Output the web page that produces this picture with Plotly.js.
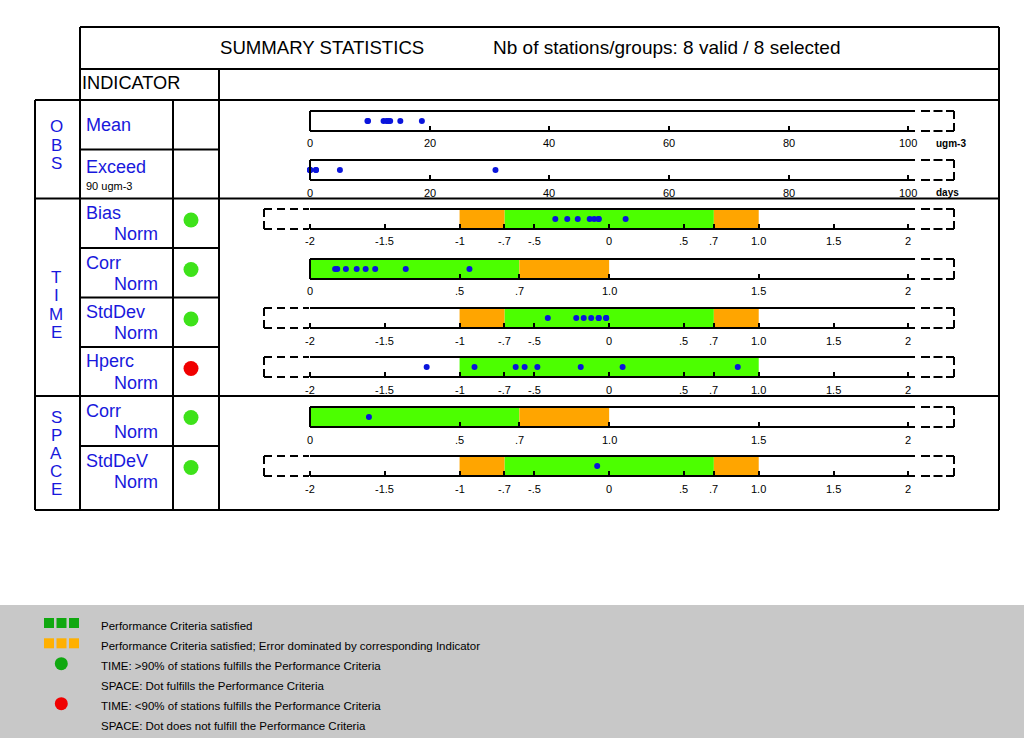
<!DOCTYPE html>
<html><head><meta charset="utf-8">
<script src="https://cdn.plot.ly/plotly-3.0.1.min.js"></script>
<style>html,body{margin:0;padding:0;background:#fff;}#chart{width:1024px;height:738px;}</style>
</head><body><div id="chart"></div>
<script>
// ---------------- DATA ----------------
const indicatorNames = ['Mean', 'Exceed', 'Bias', 'Corr', 'StdDev', 'Hperc', 'Corr', 'StdDeV'];
const indicatorSub   = ['', '90 ugm-3', 'Norm', 'Norm', 'Norm', 'Norm', 'Norm', 'Norm'];
const groupNames     = ['OBS', 'TIME', 'SPACE'];
const scaleTypes     = ['obs', 'obs', 'sym', 'corr', 'sym', 'sym', 'corr', 'sym'];
const unitLabels     = ['ugm-3', 'days', '', '', '', '', '', ''];

const meanVals      = [9.6, 9.7, 12.3, 12.8, 13.1, 13.4, 15.1, 18.7];
const exceedVals    = [0, 0, 0, 0, 1, 1, 5, 31];
const biasVals      = [-0.36, -0.28, -0.21, -0.13, -0.10, -0.07, -0.07, 0.11];
const corrTimeVals  = [0.084, 0.091, 0.120, 0.156, 0.186, 0.218, 0.320, 0.533];
const stdTimeVals   = [-0.41, -0.22, -0.17, -0.12, -0.07, -0.07, -0.02, -0.02];
const hpercVals     = [-1.22, -0.90, -0.625, -0.565, -0.48, -0.19, 0.09, 0.86];
const corrSpaceVals = [0.197];
const stdSpaceVals  = [-0.08];
const stationValues = [meanVals, exceedVals, biasVals, corrTimeVals, stdTimeVals, hpercVals, corrSpaceVals, stdSpaceVals];

const greenBands  = [null, null, [-0.7, 0.7], [0, 0.7], [-0.7, 0.7], [-1, 1], [0, 0.7], [-0.7, 0.7]];
const orangeBands = [[], [], [[-1, -0.7], [0.7, 1]], [[0.7, 1]], [[-1, -0.7], [0.7, 1]], [], [[0.7, 1]], [[-1, -0.7], [0.7, 1]]];
const statusDots  = [null, null, 'ok', 'ok', 'ok', 'fail', 'ok', 'ok'];

const obsTicks  = [0, 20, 40, 60, 80, 100];
const obsText   = ['0', '20', '40', '60', '80', '100'];
const symTicks  = [-2, -1.5, -1, -0.7, -0.5, 0, 0.5, 0.7, 1, 1.5, 2];
const symText   = ['-2', '-1.5', '-1', '-.7', '-.5', '0', '.5', '.7', '1.0', '1.5', '2'];
const corrTicks = [0, 0.5, 0.7, 1, 1.5, 2];
const corrText  = ['0', '.5', '.7', '1.0', '1.5', '2'];

const titleText = 'SUMMARY STATISTICS';
const stationsText = 'Nb of stations/groups: 8 valid / 8 selected';
const legendTexts = [
  'Performance Criteria satisfied',
  'Performance Criteria satisfied; Error dominated by corresponding Indicator',
  'TIME: >90% of stations fulfills the Performance Criteria',
  'SPACE: Dot fulfills the Performance Criteria',
  'TIME: <90% of stations fulfills the Performance Criteria',
  'SPACE: Dot does not fulfill the Performance Criteria'
];

// ---------------- LAYOUT GEOMETRY (pixels) ----------------
const W = 1024, H = 738;
const PX = x => x / W, PY = y => 1 - y / H;
const FONT = 'Liberation Sans, Arial, sans-serif';
const BLUE_TXT = '#1818dc', DOT_BLUE = '#0a14dc';
const GREEN = '#4cff00', ORANGE = '#ffa500';
const OK_GREEN = '#3ee21a', FAIL_RED = '#f00000';
const LEG_GREEN = '#10a810', LEG_ORANGE = '#ffb000';

const rowTops = [100, 149.5, 198.5, 248, 297.5, 347, 396, 446];
const boxTops = [111, 160, 209, 259, 308, 357, 407, 456];
const BOXH = 20;
const AX0 = 310, AX1 = 908.3, DOM0 = 258, DOM1 = 960;
const limits = {obs: [0, 100], sym: [-2, 2], corr: [0, 2]};
const ticksFor = {obs: [obsTicks, obsText], sym: [symTicks, symText], corr: [corrTicks, corrText]};

const traces = [], shapes = [], annotations = [];
const layout = {
  width: W, height: H, margin: {l: 0, r: 0, t: 0, b: 0},
  paper_bgcolor: '#ffffff', plot_bgcolor: 'rgba(0,0,0,0)',
  showlegend: false, font: {family: FONT, color: '#000'}
};

function line(x0, y0, x1, y1, dash, w) {
  shapes.push({type: 'line', xref: 'paper', yref: 'paper', x0: PX(x0), y0: PY(y0), x1: PX(x1), y1: PY(y1),
    line: {color: '#000', width: w || 2, dash: dash || 'solid'}, layer: 'above'});
}
function text(x, y, t, size, color, opts) {
  annotations.push(Object.assign({xref: 'paper', yref: 'paper', x: PX(x), y: PY(y), text: t, showarrow: false,
    xanchor: 'left', yanchor: 'middle', borderpad: 0, font: {family: FONT, size: size, color: color || '#000'}}, opts || {}));
}

// strips
scaleTypes.forEach((type, i) => {
  const n = i + 1;
  const [lo, hi] = limits[type];
  const v = p => lo + (p - AX0) / (AX1 - AX0) * (hi - lo);
  const top = boxTops[i], bot = top + BOXH;
  const sfx = n === 1 ? '' : String(n);
  const [tv, tt] = ticksFor[type];
  layout['xaxis' + sfx] = {domain: [PX(DOM0), PX(DOM1)], range: [v(DOM0), v(DOM1)], anchor: 'free', position: PY(bot),
    tickmode: 'array', tickvals: tv, ticks: 'inside', ticklen: 5, tickwidth: 2, tickcolor: '#000',
    showticklabels: false, showgrid: false, zeroline: false, showline: false, fixedrange: true};
  layout['yaxis' + sfx] = {domain: [PY(bot + 5), PY(top - 5)], range: [-0.25, 1.25], anchor: 'x' + sfx,
    visible: false, fixedrange: true};
  const xr = 'x' + sfx, yr = 'y' + sfx;
  // tick labels placed through the strip's own x scale
  tv.forEach((val, k) => annotations.push({xref: xr, yref: 'paper', x: val, y: PY(bot + 12.5), text: tt[k],
    showarrow: false, xanchor: 'center', yanchor: 'middle', borderpad: 0, font: {family: FONT, size: 11, color: '#000'}}));
  if (greenBands[i]) shapes.push({type: 'rect', xref: xr, yref: yr, x0: greenBands[i][0], x1: greenBands[i][1], y0: 0, y1: 1,
    fillcolor: GREEN, line: {width: 0}, layer: 'below'});
  orangeBands[i].forEach(b => shapes.push({type: 'rect', xref: xr, yref: yr, x0: b[0], x1: b[1], y0: 0, y1: 1,
    fillcolor: ORANGE, line: {width: 0}, layer: 'below'}));
  traces.push({type: 'scatter', mode: 'markers', x: stationValues[i], y: stationValues[i].map(() => 0.5),
    xaxis: xr, yaxis: yr, marker: {size: 6, color: DOT_BLUE}, cliponaxis: false, hoverinfo: 'x'});
  // frame
  line(AX0, top, 915, top); line(AX0, bot, 915, bot);
  line(921, top, 954, top, '9px,3.5px'); line(921, bot, 954, bot, '9px,3.5px');
  line(954, top, 954, bot, '8px,4px');
  if (type === 'sym') {
    line(264, top, 309, top, '8px,5px'); line(264, bot, 309, bot, '8px,5px');
    line(264, top, 264, bot, '8px,4px');
  } else {
    line(AX0, top, AX0, bot);
  }
  if (unitLabels[i]) text(935, bot + 12.5, '<b>' + unitLabels[i] + '</b>', 10);
  // row labels
  const rt = rowTops[i];
  if (i === 0) text(85, rt + 25, indicatorNames[i], 18, BLUE_TXT);
  else if (i === 1) { text(85, rt + 17.5, indicatorNames[i], 18, BLUE_TXT); text(85, rt + 36.5, indicatorSub[i], 11); }
  else { text(85, rt + 14.5, indicatorNames[i], 18, BLUE_TXT); text(113, rt + 35.5, indicatorSub[i], 18, BLUE_TXT); }
});

// pixel overlay axis for status and legend symbols
layout.xaxis9 = {domain: [0, 1], range: [0, W], visible: false, fixedrange: true, anchor: 'y9'};
layout.yaxis9 = {domain: [0, 1], range: [H, 0], visible: false, fixedrange: true, anchor: 'x9'};

// legend background (below everything)
shapes.unshift({type: 'rect', xref: 'paper', yref: 'paper', x0: 0, x1: 1, y0: 0, y1: PY(605),
  fillcolor: '#c8c8c8', line: {width: 0}, layer: 'below'});

const sx = [], sy = [], sc = [];
statusDots.forEach((s, i) => { if (s) { sx.push(191); sy.push(rowTops[i] + 21.5); sc.push(s === 'ok' ? OK_GREEN : FAIL_RED); } });
traces.push({type: 'scatter', mode: 'markers', x: sx, y: sy, xaxis: 'x9', yaxis: 'y9',
  marker: {size: 15, color: sc}, hoverinfo: 'skip'});

// legend symbols
traces.push({type: 'scatter', mode: 'markers', x: [49, 61.5, 74, 49, 61.5, 74], y: [623, 623, 623, 643.3, 643.3, 643.3],
  xaxis: 'x9', yaxis: 'y9', marker: {symbol: 'square', size: 10, color: [LEG_GREEN, LEG_GREEN, LEG_GREEN, LEG_ORANGE, LEG_ORANGE, LEG_ORANGE]},
  hoverinfo: 'skip'});
traces.push({type: 'scatter', mode: 'markers', x: [61.3, 61.3], y: [663.7, 703.7], xaxis: 'x9', yaxis: 'y9',
  marker: {size: 13, color: [LEG_GREEN, '#f00000']}, hoverinfo: 'skip'});
legendTexts.forEach((t, k) => text(99.5, [626, 645.5, 665.5, 685.5, 705.5, 725.5][k], t, 11.5));

// table grid
line(80, 27, 999, 27); line(80, 69, 999, 69);
line(35, 100, 999, 100); line(80, 149.5, 219, 149.5);
line(35, 198.5, 999, 198.5);
[248, 297.5, 347].forEach(y => line(80, y, 219, y));
line(35, 396, 999, 396); line(80, 446, 219, 446);
line(35, 510, 999, 510);
line(35, 100, 35, 510); line(80, 27, 80, 510); line(173, 100, 173, 510);
line(219, 69, 219, 510); line(999, 27, 999, 510);

// header
text(219, 47.5, titleText, 18.6);
text(492, 47.5, stationsText, 19);
text(81, 83, 'INDICATOR', 18.2);

// group labels (stacked letters)
const groupCenters = [145, 305, 453.4];
groupNames.forEach((g, k) => {
  const letters = g.split('');
  const step = 18.2;
  letters.forEach((c, j) => text(56, groupCenters[k] + (j - (letters.length - 1) / 2) * step, c, 17, BLUE_TXT, {xanchor: 'center'}));
});

layout.shapes = shapes;
layout.annotations = annotations;
Plotly.newPlot('chart', traces, layout, {staticPlot: true, displayModeBar: false});
</script></body></html>
